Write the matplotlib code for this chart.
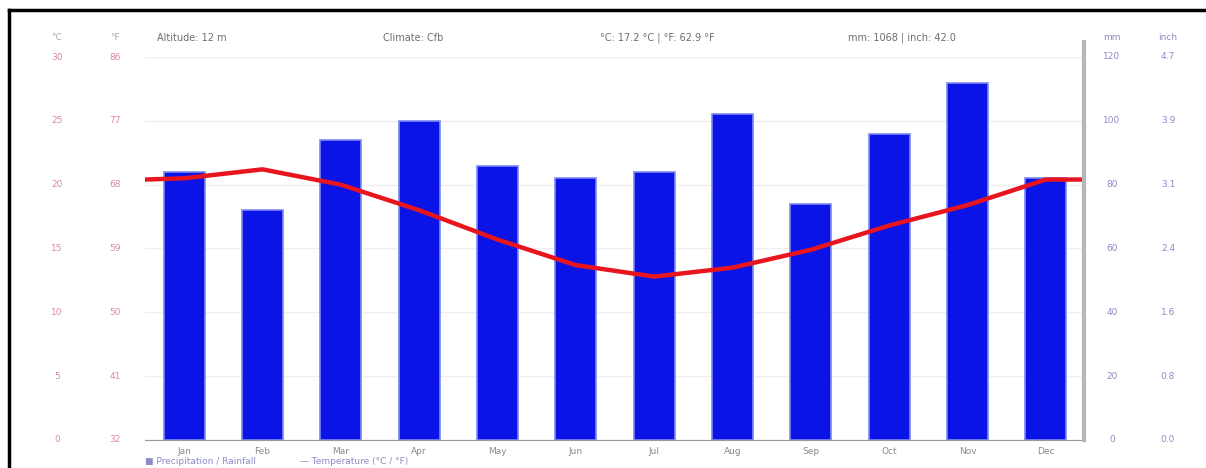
import matplotlib.pyplot as plt
import matplotlib.transforms as mtransforms
from matplotlib.lines import Line2D

# monthly climate values
months = ["Jan", "Feb", "Mar", "Apr", "May", "Jun",
          "Jul", "Aug", "Sep", "Oct", "Nov", "Dec"]
precip_mm = [84, 72, 94, 100, 86, 82, 84, 102, 74, 96, 112, 82]
temp_c = [20.5, 21.2, 20.0, 18.0, 15.7, 13.7, 12.8, 13.5, 14.9, 16.8, 18.4, 20.4]
edge_temp = 20.4  # where the curve meets the plot edges

# axis tick labels
c_ticks = [0, 5, 10, 15, 20, 25, 30]
f_ticks = ["32", "41", "50", "59", "68", "77", "86"]
mm_ticks = [0, 20, 40, 60, 80, 100, 120]
inch_ticks = ["0.0", "0.8", "1.6", "2.4", "3.1", "3.9", "4.7"]

header = ["Altitude: 12 m", "Climate: Cfb",
          "°C: 17.2 °C | °F: 62.9 °F", "mm: 1068 | inch: 42.0"]
header_x = [157, 383, 600, 848]

W, H = 1206, 468
fig = plt.figure(figsize=(W / 100, H / 100), dpi=100)
ax = fig.add_axes([145 / W, 1 - 440 / H, 940 / W, 383 / H])
ax2 = ax.twinx()

x = list(range(len(months)))
ax2.bar(x, precip_mm, width=0.52, color="#0a14e6", edgecolor="#7f88f2",
        linewidth=1.2, zorder=2)
ax2.set_ylim(0, 120)

ax.set_zorder(ax2.get_zorder() + 1)
ax.patch.set_visible(False)
ax.plot([-0.5] + x + [11.5], [edge_temp] + temp_c + [edge_temp],
        color="#e8141e", linewidth=3.2, solid_joinstyle="round", zorder=3)
ax.set_ylim(0, 30)
ax.set_xlim(-0.5, 11.5)

for a in (ax, ax2):
    a.set_yticks([])
    for s in a.spines.values():
        s.set_visible(False)
ax2.set_yticks(mm_ticks)
ax2.tick_params(axis="y", length=0, labelright=False)
ax2.grid(axis="y", color="#f1eef2", linewidth=1)
ax.spines["bottom"].set_visible(True)
ax.spines["bottom"].set_color("#9a9a9a")
ax.set_xticks(x)
ax.set_xticklabels(months, fontsize=6.5, color="#8a8a8a")
ax.tick_params(axis="x", length=0, pad=5)

# gray right-hand rule
fig.add_artist(Line2D([1084 / W, 1084 / W], [1 - 440 / H, 1 - 42 / H],
                      color="#b8b4bc", linewidth=3))

# tick label columns
tl = mtransforms.blended_transform_factory(fig.transFigure, ax.transData)
for v, f in zip(c_ticks, f_ticks):
    ax.text(57 / W, v, str(v), transform=tl, ha="center", va="center",
            fontsize=6.5, color="#d98a99")
    ax.text(115 / W, v, f, transform=tl, ha="center", va="center",
            fontsize=6.5, color="#d98a99")
tr = mtransforms.blended_transform_factory(fig.transFigure, ax2.transData)
for v, i in zip(mm_ticks, inch_ticks):
    ax2.text(1112 / W, v, str(v), transform=tr, ha="center", va="center",
             fontsize=6.5, color="#8c8cc4")
    ax2.text(1168 / W, v, i, transform=tr, ha="center", va="center",
             fontsize=6.5, color="#8c8cc4")

hy = 1 - 38 / H
fig.text(57 / W, hy, "°C", ha="center", va="center", fontsize=6.5, color="#a8a8a8")
fig.text(115 / W, hy, "°F", ha="center", va="center", fontsize=6.5, color="#a8a8a8")
fig.text(1112 / W, hy, "mm", ha="center", va="center", fontsize=6.5, color="#8c8cc4")
fig.text(1168 / W, hy, "inch", ha="center", va="center", fontsize=6.5, color="#8c8cc4")
for t, hx in zip(header, header_x):
    fig.text(hx / W, hy, t, ha="left", va="center", fontsize=7, color="#6e6e6e")

# legend line under the chart
ly = 1 - 461 / H
fig.text(145 / W, ly, "■ Precipitation / Rainfall", ha="left", va="center",
         fontsize=6.5, color="#8c8cc4")
fig.text(300 / W, ly, "— Temperature (°C / °F)", ha="left", va="center",
         fontsize=6.5, color="#8c8cc4")

# frame of the original screenshot
fig.add_artist(Line2D([9 / W, 9 / W], [0, 1 - 10 / H], color="black", linewidth=2.5))
fig.add_artist(Line2D([9 / W, 1], [1 - 10 / H, 1 - 10 / H], color="black", linewidth=2.5))

fig.savefig("out.png", dpi=100)
